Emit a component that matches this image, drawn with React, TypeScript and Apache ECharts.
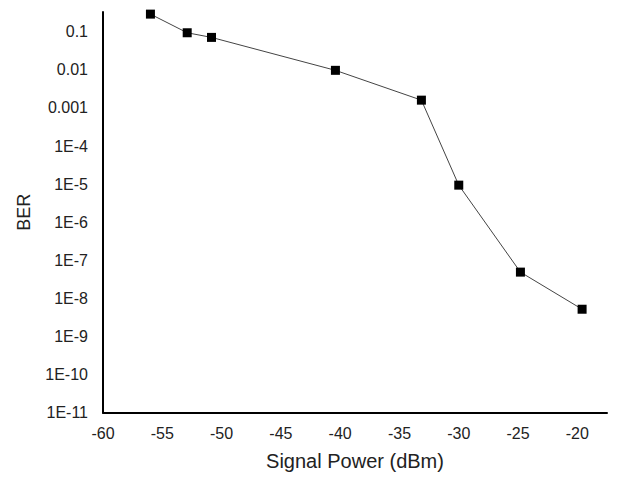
import React, { useEffect, useRef } from "react";
import * as echarts from "echarts";

const signalPower = [-56.0, -52.9, -50.85, -40.4, -33.15, -30.0, -24.8, -19.6];
const ber = [0.29, 0.094, 0.071, 0.0097, 0.0016, 9.4e-6, 4.9e-8, 5.2e-9];
const xTitle = "Signal Power (dBm)";
const yTitle = "BER";

const fmtY = (v: number) => {
  const e = Math.round(v);
  if (Math.abs(v - e) > 1e-6) return "";
  if (e >= -3) return Math.pow(10, e).toFixed(-e);
  return "1E" + e;
};

export default function App() {
  const ref = useRef<HTMLDivElement>(null);
  useEffect(() => {
    if (!ref.current) return;
    const chart = echarts.init(ref.current, undefined, { renderer: "svg" });
    const font = "Liberation Sans, Arial, sans-serif";
    chart.setOption({
      animation: false,
      backgroundColor: "#ffffff",
      grid: { left: 103, right: 30, top: 12, bottom: 65.3, containLabel: false },
      xAxis: {
        type: "value",
        min: -60,
        max: -17.5,
        interval: 5,
        name: xTitle,
        nameLocation: "middle",
        nameGap: 38,
        nameTextStyle: { fontFamily: font, fontSize: 20, color: "#222" },
        axisLine: { show: true, onZero: false, lineStyle: { color: "#000", width: 2 } },
        axisTick: { show: false },
        splitLine: { show: false },
        axisLabel: {
          fontFamily: font,
          fontSize: 16,
          color: "#222",
          margin: 13,
          showMaxLabel: false,
        },
      },
      yAxis: {
        type: "value",
        min: -11,
        max: -0.482,
        interval: 1,
        name: yTitle,
        nameLocation: "middle",
        nameGap: 70,
        nameTextStyle: { fontFamily: font, fontSize: 18, color: "#222" },
        axisLine: { show: true, onZero: false, lineStyle: { color: "#000", width: 2 } },
        axisTick: { show: false },
        splitLine: { show: false },
        axisLabel: {
          fontFamily: font,
          fontSize: 16,
          color: "#222",
          margin: 15,
          showMaxLabel: false,
          formatter: fmtY,
        },
      },
      series: [
        {
          type: "line",
          data: signalPower.map((x, i) => [x, Math.log10(ber[i])]),
          symbol: "rect",
          symbolSize: 9,
          itemStyle: { color: "#000" },
          lineStyle: { color: "#444", width: 1 },
        },
      ],
    });
    return () => chart.dispose();
  }, []);
  return <div ref={ref} style={{ width: 637, height: 478, position: "absolute", left: 0, top: 0 }} />;
}
